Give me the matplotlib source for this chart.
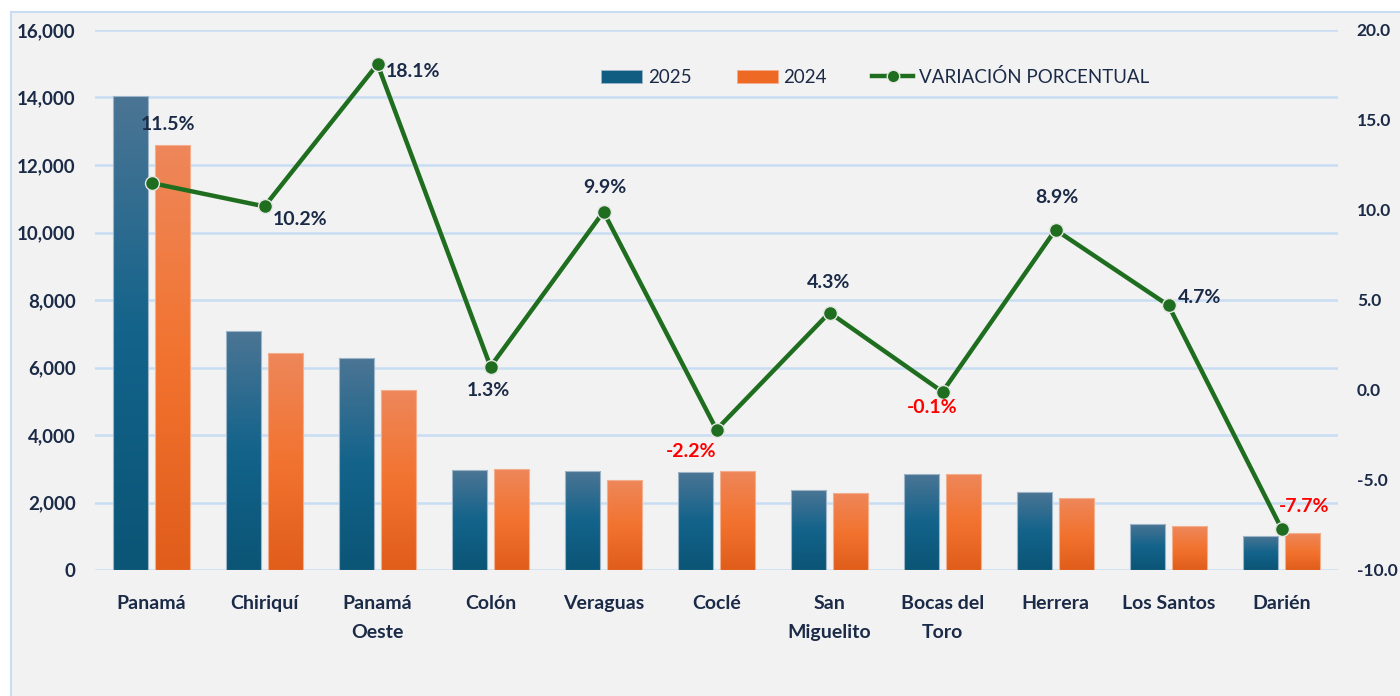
import numpy as np
import matplotlib
matplotlib.use("Agg")
import matplotlib.pyplot as plt
from matplotlib.patches import Rectangle, Patch
from matplotlib.lines import Line2D
from matplotlib.colors import LinearSegmentedColormap
from matplotlib.ticker import FuncFormatter

plt.rcParams['font.family'] = ['Lato', 'DejaVu Sans']

categorias = ["Panamá", "Chiriquí", "Panamá\nOeste", "Colón", "Veraguas", "Coclé",
              "San\nMiguelito", "Bocas del\nToro", "Herrera", "Los Santos", "Darién"]
valores_2025 = [14050, 7080, 6280, 2960, 2935, 2905, 2380, 2850, 2300, 1365, 1020]
valores_2024 = [12600, 6430, 5330, 3000, 2655, 2935, 2280, 2850, 2130, 1300, 1090]
variacion = [11.5, 10.2, 18.1, 1.3, 9.9, -2.2, 4.3, -0.1, 8.9, 4.7, -7.7]

# label offsets in pixels (dx, dy) relative to each line point
offsets = [(17, 59), (36, -13), (36, -7), (-2, -24), (1, 24), (-25, -22),
           (-1, 30), (-10, -16), (1, 32), (31, 8), (23, 22)]

NAVY = "#1b2a47"
GRID = "#c9ddf2"
GREEN = "#1f6e1f"

fig = plt.figure(figsize=(14, 6.96), dpi=100)
fig.patch.set_facecolor("white")
fig.patches.append(Rectangle((11 / 1400, -0.1), 1.1, 1.1 - 12 / 696,
                             transform=fig.transFigure, facecolor="#f2f2f2",
                             edgecolor=GRID, linewidth=1.5, zorder=-10))

ax = fig.add_axes([95 / 1400, 1 - 570 / 696, (1338 - 95) / 1400, 540 / 696])
ax.set_facecolor("none")

x = np.arange(len(categorias))
w = 0.31
off = 0.19

cmap_blue = LinearSegmentedColormap.from_list(
    "b", [(0, "#0b5576"), (0.5, "#13638b"), (1, "#4c7594")])
cmap_orange = LinearSegmentedColormap.from_list(
    "o", [(0, "#e05d1a"), (0.5, "#f2732f"), (1, "#ee875b")])

bars_25 = ax.bar(x - off, valores_2025, w, facecolor="none",
                 edgecolor="#9db5c8", linewidth=0.8, zorder=3)
bars_24 = ax.bar(x + off, valores_2024, w, facecolor="none",
                 edgecolor="#f3ae8d", linewidth=0.8, zorder=3)

grad = np.linspace(0, 1, 256).reshape(-1, 1)
for bars, cmap in [(bars_25, cmap_blue), (bars_24, cmap_orange)]:
    for b in bars:
        x0, y0 = b.get_x(), b.get_y()
        im = ax.imshow(grad, cmap=cmap, origin="lower", aspect="auto",
                       extent=[x0, x0 + b.get_width(), y0, y0 + b.get_height()],
                       zorder=2)
        im.set_clip_path(b)

ax.set_xlim(-0.5, 10.5)
ax.set_ylim(0, 16000)
ax.set_yticks(range(0, 16001, 2000))
ax.yaxis.set_major_formatter(FuncFormatter(lambda v, p: f"{int(v):,}"))
ax.grid(axis="y", color=GRID, linewidth=1.8, zorder=0)
ax.set_axisbelow(True)
for s in ax.spines.values():
    s.set_visible(False)
ax.tick_params(axis="y", length=0, pad=14, labelsize=13.5, labelcolor=NAVY)
ax.tick_params(axis="x", length=0, pad=18, labelsize=14, labelcolor=NAVY)
ax.set_xticks(x)
ax.set_xticklabels(categorias, fontweight="bold", linespacing=1.85, va="top")
for t in ax.get_yticklabels():
    t.set_fontweight("bold")

ax2 = ax.twinx()
ax2.set_ylim(-10, 20)
ax2.set_yticks(range(-10, 21, 5))
ax2.yaxis.set_major_formatter(FuncFormatter(lambda v, p: f"{v:.1f}"))
for s in ax2.spines.values():
    s.set_visible(False)
ax2.tick_params(axis="y", length=0, pad=13.5, labelsize=12.5, labelcolor=NAVY)
for t in ax2.get_yticklabels():
    t.set_fontweight("bold")

ax2.plot(x, variacion, color=GREEN, linewidth=3.2, marker="o", markersize=10,
         markerfacecolor=GREEN, markeredgecolor="#e6e6e6", markeredgewidth=1,
         zorder=5)

for xi, v, (dx, dy) in zip(x, variacion, offsets):
    ax2.annotate(f"{v:.1f}%", (xi, v), xytext=(dx, dy), textcoords="offset pixels",
                 ha="center", va="center", fontsize=14, fontweight="bold",
                 color="#ff0000" if v < 0 else NAVY, zorder=6)

handles = [
    Patch(facecolor="#115d82", edgecolor="#9db5c8", linewidth=0.6),
    Patch(facecolor="#ee6a24", edgecolor="#f3ae8d", linewidth=0.6),
    Line2D([0], [0], color=GREEN, linewidth=3.2, marker="o", markersize=9,
           markerfacecolor=GREEN, markeredgecolor="#e6e6e6"),
]
fig.legend(handles, ["2025", "2024", "VARIACIÓN PORCENTUAL"], loc="center",
           bbox_to_anchor=(875 / 1400, 1 - 77 / 696), ncol=3, frameon=False,
           fontsize=13.5, labelcolor=NAVY, handlelength=2.2, handleheight=0.7,
           handletextpad=0.3, columnspacing=2.4)

fig.savefig("out.png", dpi=100, facecolor=fig.get_facecolor())
